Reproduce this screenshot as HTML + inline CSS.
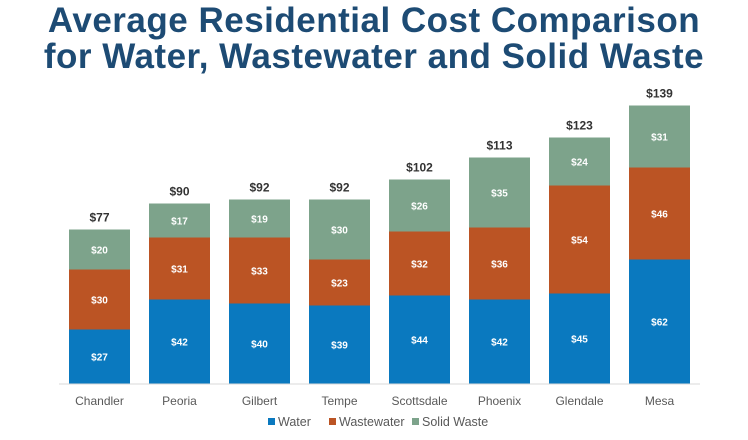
<!DOCTYPE html>
<html><head><meta charset="utf-8"><style>
body{margin:0;width:748px;height:440px;background:#fff;overflow:hidden;font-family:"Liberation Sans",sans-serif}
.title{position:absolute;left:0;width:748px;text-align:center;color:#1d4b74;font-weight:bold;font-size:35px;letter-spacing:0.5px;line-height:36px}
</style></head><body>
<div class="title" style="top:3px">Average Residential Cost Comparison<br>for Water, Wastewater and Solid Waste</div>
<svg id="chart" width="748" height="440" style="position:absolute;left:0;top:0"></svg>
<script>
const categories=["Chandler","Peoria","Gilbert","Tempe","Scottsdale","Phoenix","Glendale","Mesa"];
const water=[27,42,40,39,44,42,45,62];
const wastewater=[30,31,33,23,32,36,54,46];
const solidWaste=[20,17,19,30,26,35,24,31];
const totals=[77,90,92,92,102,113,123,139];
const seriesNames=["Water","Wastewater","Solid Waste"];
const colors=["#0a79bf","#bb5424","#7da38b"];
const svg=document.getElementById('chart');
const NS='http://www.w3.org/2000/svg';
const baseY=383.5,pxPer=2.0,x0=69,step=80,bw=61;
const yScale=v=>baseY-v*pxPer;
const xScale=i=>x0+i*step;
function mk(tag,attrs,text){const e=document.createElementNS(NS,tag);for(const k in attrs)e.setAttribute(k,attrs[k]);if(text!==undefined)e.textContent=text;svg.appendChild(e);return e;}
const ax=mk('line',{x1:59,x2:700,y1:baseY+0.5,y2:baseY+0.5,stroke:'#d9d9d9','stroke-width':1});


const series=[water,wastewater,solidWaste];
categories.forEach((c,i)=>{
  let cum=0;
  series.forEach((s,k)=>{
    const v=s[i];
    const r=mk('rect',{x:xScale(i),y:yScale(cum+v),width:bw,height:v*pxPer,fill:colors[k]});
    
    
    const t=mk('text',{x:xScale(i)+bw/2,y:yScale(cum+v/2)+4,'text-anchor':'middle',fill:'#fff','font-size':10,'font-weight':'bold'},'$'+v);
    
    
    cum+=v;
  });
  const tt=mk('text',{x:xScale(i)+bw/2,y:yScale(totals[i])-8,'text-anchor':'middle',fill:'#333','font-size':12,'font-weight':'bold'},'$'+totals[i]);
  
  
  const cl=mk('text',{x:xScale(i)+bw/2,y:405,'text-anchor':'middle',fill:'#595959','font-size':12},c);
  
  
});
const legX=[268,329,412];
seriesNames.forEach((n,k)=>{
  const r=mk('rect',{x:legX[k],y:418,width:7,height:7,fill:colors[k]});
  
  
  const t=mk('text',{x:legX[k]+10,y:426,fill:'#595959','font-size':12.5},n);
  
  
});
</script>
</body></html>
